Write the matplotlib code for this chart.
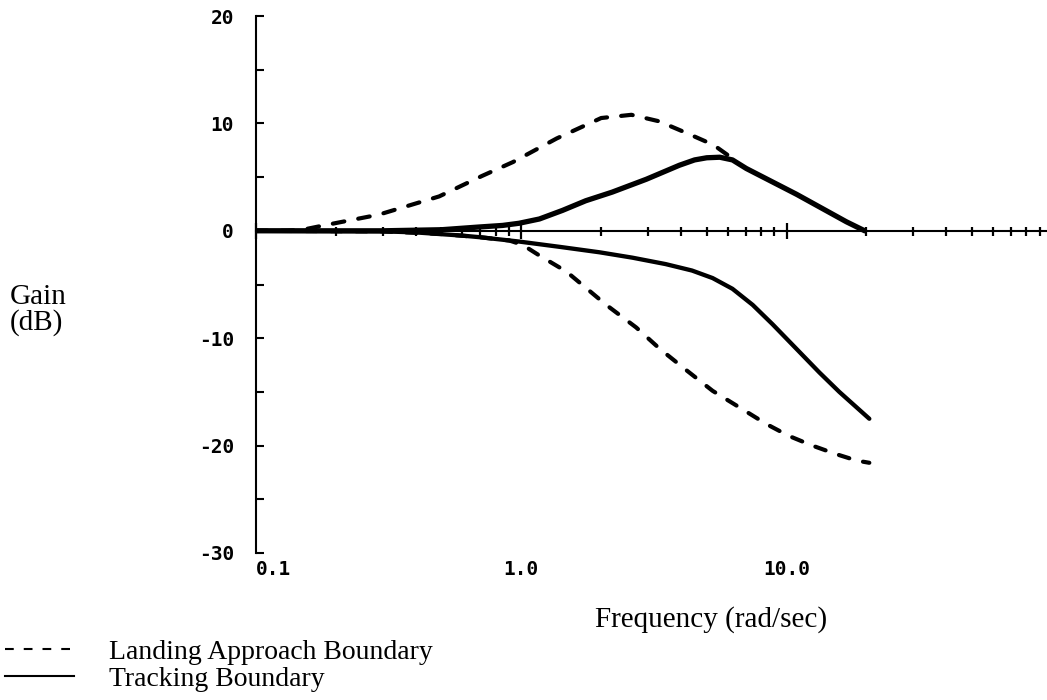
import matplotlib
matplotlib.use("Agg")
import matplotlib.pyplot as plt
from matplotlib.lines import Line2D
from matplotlib.ticker import FixedLocator, NullFormatter

# Frequency (rad/sec) and gain (dB) for each boundary
landing_upper_w = [0.1, 0.13, 0.15, 0.18, 0.29, 0.49, 0.71, 0.93, 1.36, 2.0, 2.6, 3.3, 4.2, 5.3, 6.2]
landing_upper_db = [0.0, 0.0, 0.1, 0.5, 1.5, 3.2, 5.1, 6.4, 8.6, 10.5, 10.8, 10.2, 9.1, 8.0, 6.8]

tracking_upper_w = [0.1, 0.3, 0.5, 0.69, 0.85, 0.98, 1.17, 1.43, 1.75, 2.2, 2.96, 3.94, 4.5, 5.0, 5.6,
                    6.25, 7.05, 10.9, 16.8, 19.7]
tracking_upper_db = [0.0, 0.0, 0.1, 0.35, 0.5, 0.7, 1.1, 1.9, 2.8, 3.6, 4.8, 6.1, 6.6, 6.8, 6.85,
                     6.6, 5.8, 3.4, 0.84, 0.0]

tracking_lower_w = [0.1, 0.3, 0.4, 0.6, 0.7, 0.98, 1.4, 1.97, 2.62, 3.5, 4.4, 5.26, 6.25, 7.45,
                    8.85, 11.2, 13.3, 15.8, 20.5]
tracking_lower_db = [0.0, -0.05, -0.15, -0.45, -0.6, -1.0, -1.5, -2.0, -2.5, -3.1, -3.7, -4.4, -5.4,
                     -6.9, -8.7, -11.3, -13.2, -15.0, -17.5]

landing_lower_w = [0.1, 0.3, 0.5, 0.7, 0.9, 1.01, 1.17, 1.48, 2.09, 2.71, 3.33, 4.2, 5.26, 6.6,
                   8.4, 10.2, 12.5, 15.4, 18.4, 20.5]
landing_lower_db = [0.0, -0.05, -0.3, -0.6, -0.9, -1.3, -2.3, -3.8, -6.9, -9.0, -11.0, -13.0, -14.9,
                    -16.4, -18.0, -19.1, -20.0, -20.8, -21.4, -21.6]

x_major = [0.1, 1.0, 10.0]
x_major_labels = ["0.1", "1.0", "10.0"]
x_minor = [m * d for d in (0.1, 1.0, 10.0) for m in range(2, 10)]
y_major = [-30, -20, -10, 0, 10, 20]
y_major_labels = ["-30", "-20", "-10", "0", "10", "20"]
y_minor = [-25, -15, -5, 5, 15]

legend_labels = ["Landing Approach Boundary", "Tracking Boundary"]

DPI = 100
W, H = 1047, 700
PT = 72.0 / DPI  # points per pixel

fig = plt.figure(figsize=(W / DPI, H / DPI), dpi=DPI)
ax = fig.add_axes([256 / W, (H - 553) / H, 790 / W, 537 / H])

ax.set_xscale("log")
ax.set_xlim(0.1, 95)
ax.set_ylim(-30, 20)

ink = "black"
ax.plot(tracking_upper_w, tracking_upper_db, color=ink, lw=3.8,
        solid_capstyle="round", solid_joinstyle="round", zorder=4)
ax.plot(tracking_lower_w, tracking_lower_db, color=ink, lw=3.1,
        solid_capstyle="round", solid_joinstyle="round", zorder=4)
ax.plot(landing_upper_w, landing_upper_db, color=ink, lw=3.0,
        dashes=(2.8, 3.4), dash_capstyle="round", zorder=4)
ax.plot(landing_lower_w, landing_lower_db, color=ink, lw=3.0,
        dashes=(2.6, 3.4), dash_capstyle="round", zorder=4)

# Axes frame: left spine plus a zero-gain line carrying the frequency ticks
for side in ("top", "right"):
    ax.spines[side].set_visible(False)
ax.spines["bottom"].set_position(("data", 0))
ax.spines["left"].set_linewidth(1.5)
ax.spines["bottom"].set_linewidth(1.5)

tick_font = {"family": "DejaVu Sans Mono", "weight": "bold", "size": 14}

ax.xaxis.set_major_locator(FixedLocator(x_major))
ax.xaxis.set_minor_locator(FixedLocator(x_minor))
ax.xaxis.set_minor_formatter(NullFormatter())
ax.set_xticks(x_major, labels=x_major_labels)
ax.tick_params(axis="x", which="major", direction="inout", length=16 * PT,
               width=1.6, pad=(329 - 8) * PT)
ax.tick_params(axis="x", which="minor", direction="inout", length=9 * PT,
               width=1.6)
for lab in ax.get_xticklabels():
    lab.set_fontproperties(tick_font)
    lab.set_verticalalignment("top")
ax.get_xticklabels()[0].set_horizontalalignment("left")

ax.set_yticks(y_major, labels=y_major_labels)
ax.set_yticks(y_minor, minor=True)
ax.tick_params(axis="y", which="both", direction="in", length=8 * PT,
               width=1.5, pad=22 * PT)
for lab in ax.get_yticklabels():
    lab.set_fontproperties(tick_font)

serif = "Liberation Serif"
ax.set_ylabel("Gain\n(dB)", rotation=0, ha="left", va="center",
              family=serif, fontsize=21, linespacing=0.92)
ax.yaxis.set_label_coords((10 - 256) / 790, (553 - 310) / 537)
ax.set_xlabel("Frequency (rad/sec)", family=serif, fontsize=21, va="center")
ax.xaxis.set_label_coords((711 - 256) / 790, (553 - 620) / 537)

handles = [
    Line2D([], [], color=ink, lw=1.5, dashes=(4.2, 4.8)),
    Line2D([], [], color=ink, lw=1.5),
]
fig.legend(handles, legend_labels, loc="lower left",
           bbox_to_anchor=(5 / W, 8 / H), frameon=False,
           prop={"family": serif, "size": 20}, handlelength=2.5,
           handletextpad=1.25, labelspacing=0.05, borderpad=0,
           borderaxespad=0)

fig.savefig("out.png", dpi=DPI)
